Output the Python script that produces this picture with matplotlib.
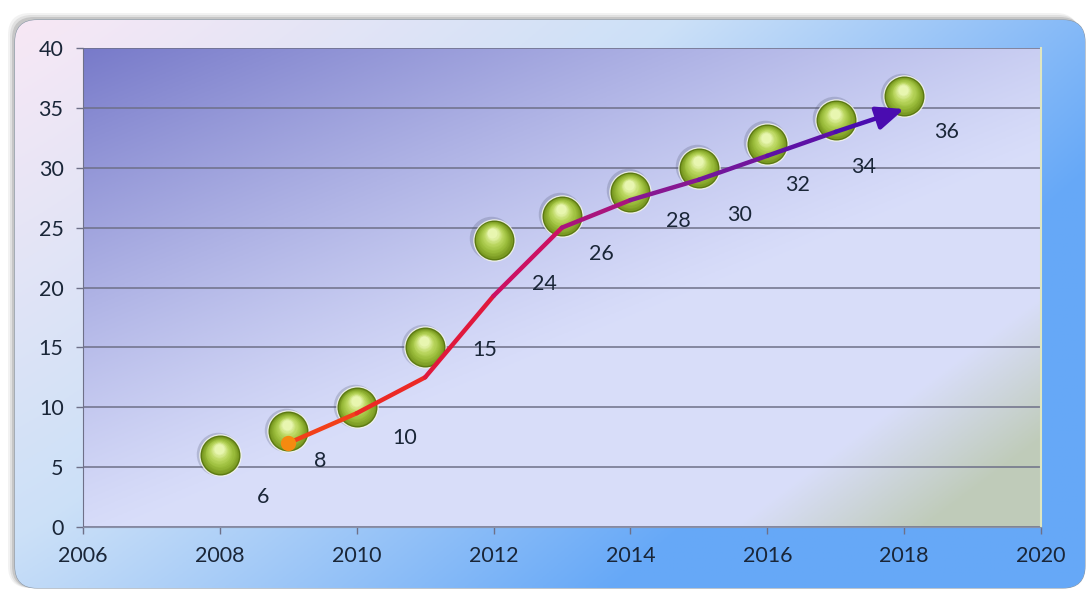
import numpy as np
import matplotlib
matplotlib.use("Agg")
import matplotlib.pyplot as plt
from matplotlib.patches import FancyBboxPatch
from matplotlib.collections import LineCollection
from matplotlib.colors import LinearSegmentedColormap
from matplotlib.transforms import offset_copy

# data
years = [2008, 2009, 2010, 2011, 2012, 2013, 2014, 2015, 2016, 2017, 2018]
values = [6, 8, 10, 15, 24, 26, 28, 30, 32, 34, 36]
labels = [str(v) for v in values]

# trend arrow drawn over the points
arrow_x = [2009, 2010, 2011, 2012, 2013, 2014, 2015, 2016, 2017, 2018]
arrow_y = [7, 9.5, 12.5, 19.3, 25, 27.3, 29, 31, 33, 34.9]

# label offsets in pixels (right, down) as placed in the original
label_off = [(43, 42), (32, 30), (48, 31), (60, 3), (51, 44), (39, 38),
             (48, 29), (41, 47), (30, 41), (28, 47), (42, 36)]

W, H = 1088, 590
fig = plt.figure(figsize=(W / 100, H / 100), dpi=100)
fig.patch.set_facecolor("white")

# ---- rounded frame with gradient ----
bg = fig.add_axes([0, 0, 1, 1], zorder=0)
bg.set_xlim(0, W)
bg.set_ylim(0, H)
bg.axis("off")

for k, a in [(7, 0.08), (5, 0.12), (3, 0.2)]:
    sh = FancyBboxPatch((15 - k, 2), 1070, 568 + k,
                        boxstyle="round,pad=0,rounding_size=22",
                        fc="#606060", ec="none", alpha=a)
    bg.add_patch(sh)

frame = FancyBboxPatch((15, 2), 1070, 568, boxstyle="round,pad=0,rounding_size=22",
                       fc="none", ec="#8a98a8", lw=0.8)
bg.add_patch(frame)

u = np.linspace(0, 1, 300)[None, :]
v = np.linspace(0, 1, 200)[:, None]
t = np.clip(0.85 * u ** 1.1 + 0.55 * v, 0, 1)
c0 = np.array([0.97, 0.91, 0.96])
c1 = np.array([0.80, 0.88, 0.97])
c2 = np.array([0.40, 0.66, 0.97])
t3 = t[..., None]
grad = np.where(t3 < 0.5, c0 + (c1 - c0) * (t3 / 0.5), c1 + (c2 - c1) * ((t3 - 0.5) / 0.5))
im = bg.imshow(grad, extent=(15, 1085, 2, 570), origin="upper", aspect="auto", zorder=1)
im.set_clip_path(frame)

# ---- plot area ----
ax = fig.add_axes([83 / W, 63 / H, (1041 - 83) / W, (527 - 48) / H], zorder=2)

a = np.linspace(0, 1, 300)[None, :]
b = np.linspace(1, 0, 200)[:, None]
d = np.clip(1 - (a * 0.9 + (1 - b) * 1.1) / 1.15, 0, 1) ** 1.2
light = np.array([0.85, 0.87, 0.98])
dark = np.array([0.47, 0.48, 0.79])
area = light + (dark - light) * d[..., None]
g = np.clip((a - 0.80) / 0.2 + (0.3 - b) / 0.3 - 0.4, 0, 1)
green = np.array([0.74, 0.79, 0.70])
area = area + (green - area) * (g[..., None] * 0.9)
ax.imshow(area, extent=(0, 1, 0, 1), transform=ax.transAxes, aspect="auto", zorder=0)

ax.set_xlim(2006, 2020)
ax.set_ylim(0, 40)
ax.set_xticks(range(2006, 2021, 2))
ax.set_yticks(range(0, 41, 5))
ax.yaxis.grid(True, color="#6e7088", lw=1.1, zorder=1)
ax.set_axisbelow(True)
ax.spines["top"].set_visible(False)
ax.spines["right"].set_color("#dfe6c0")
ax.spines["right"].set_linewidth(1.5)
ax.spines["left"].set_color("#6e7088")
ax.spines["bottom"].set_color("#8890a8")
ax.tick_params(axis="both", direction="out", colors="#6e7088", length=5, width=1,
               labelcolor="#1a2638", labelsize=15.5, pad=9)
for lab in ax.get_xticklabels() + ax.get_yticklabels():
    lab.set_family("Lato")

# ---- green spheres ----
D = 28.8  # ball diameter in points
sh_tr = offset_copy(ax.transData, fig=fig, x=-1.5, y=1, units="points")
ax.scatter(years, values, s=(D + 2.5) ** 2, color="#404860", alpha=0.22, lw=0,
           transform=sh_tr, zorder=3)
ax.scatter(years, values, s=(D + 1.8) ** 2, color="#f4f6e8", alpha=0.85, lw=0, zorder=4)
ax.scatter(years, values, s=D ** 2, color="#5c7a12", lw=0, zorder=5)
n = 14
cmap_ball = LinearSegmentedColormap.from_list("ball", ["#7a9a22", "#9cbe3c", "#bcd862", "#e8f6b0"])
for k in range(n):
    f = k / (n - 1)
    dd = D * (0.93 - 0.68 * f)
    tr = offset_copy(ax.transData, fig=fig, x=-0.8 * f, y=4.5 * f, units="points")
    ax.scatter(years, values, s=dd ** 2, color=cmap_ball(f), lw=0, transform=tr, zorder=6)

# ---- trend arrow ----
pts = np.column_stack([arrow_x, arrow_y])
segs = np.stack([pts[:-2], pts[1:-1]], axis=1)
cmap_arrow = LinearSegmentedColormap.from_list(
    "arr", ["#f2401a", "#e81c2c", "#c8106a", "#8c1890", "#6a14a0", "#4a0cb0"])
cols = [cmap_arrow(i / (len(segs))) for i in range(len(segs))]
lc = LineCollection(segs, colors=cols, linewidths=3.2, capstyle="round",
                    joinstyle="round", zorder=8)
ax.add_collection(lc)
ax.annotate("", xy=(arrow_x[-1], arrow_y[-1]), xytext=(arrow_x[-2], arrow_y[-2]),
            arrowprops=dict(arrowstyle="-|>,head_length=0.75,head_width=0.32",
                            color="#4a0cb0", lw=3.2, mutation_scale=22,
                            shrinkA=0, shrinkB=0), zorder=8)
ax.scatter([arrow_x[0]], [arrow_y[0]], s=11 ** 2, color="#f58a10", lw=0, zorder=9)

# ---- value labels ----
for x, y, txt, (dx, dy) in zip(years, values, labels, label_off):
    ax.annotate(txt, (x, y), xytext=(dx, -dy), textcoords="offset pixels",
                ha="center", va="center", fontsize=15.5, family="Lato",
                color="#1a2638", zorder=10)

fig.savefig("out.png", dpi=100, facecolor="white")
